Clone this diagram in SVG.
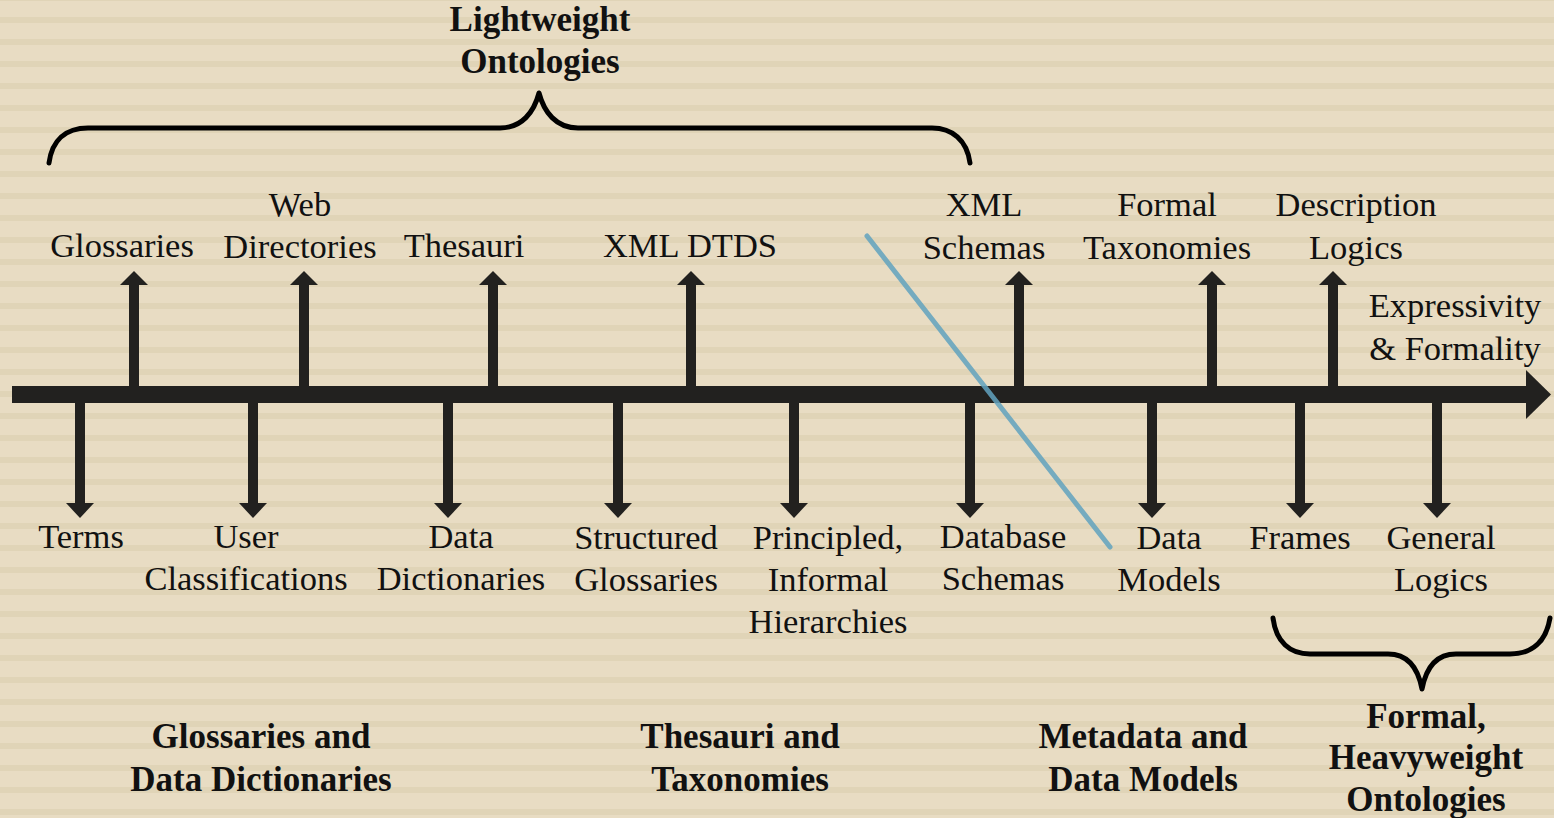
<svg xmlns="http://www.w3.org/2000/svg" xmlns:xlink="http://www.w3.org/1999/xlink" width="1554" height="818" viewBox="0 0 1554 818">
<defs>
<pattern id="stripes" patternUnits="userSpaceOnUse" x="0" y="17" width="1554" height="22">
<rect x="0" y="0" width="1554" height="22" fill="#E8DCC3"/>
<rect x="0" y="0" width="1554" height="6" fill="#E0D4B7"/>
</pattern>
<g id="up"><rect x="-5" y="284" width="10" height="103" fill="#22211F"/><polygon points="-14,285 14,285 0,271" fill="#22211F"/></g>
<g id="down"><rect x="-5" y="402" width="10" height="102" fill="#22211F"/><polygon points="-14,503 14,503 0,518" fill="#22211F"/></g>
<style>
.t{font-family:"Times New Roman","Liberation Serif",serif;font-size:34.5px;fill:#111;text-anchor:middle}
.b{font-family:"Times New Roman","Liberation Serif",serif;font-size:35px;font-weight:bold;fill:#111;text-anchor:middle}
.brace{fill:none;stroke:#000;stroke-width:5;stroke-linecap:round;stroke-linejoin:round}
</style>
</defs>
<rect width="1554" height="818" fill="url(#stripes)"/>

<g id="connectors">
<rect x="12" y="386" width="1516" height="17" fill="#22211F"/>
<polygon points="1526,370 1551,394.5 1526,419" fill="#22211F"/>
<use href="#up" x="134"/>
<use href="#up" x="304"/>
<use href="#up" x="493"/>
<use href="#up" x="691"/>
<use href="#up" x="1019"/>
<use href="#up" x="1212"/>
<use href="#up" x="1333"/>
<use href="#down" x="80"/>
<use href="#down" x="253"/>
<use href="#down" x="448"/>
<use href="#down" x="618"/>
<use href="#down" x="794"/>
<use href="#down" x="970"/>
<use href="#down" x="1152"/>
<use href="#down" x="1300"/>
<use href="#down" x="1437"/>
<line x1="867" y1="236" x2="1110" y2="547" stroke="#62A3BF" stroke-width="5" stroke-linecap="round" opacity="0.85"/>
</g>

<g id="brace-lightweight">
<path class="brace" d="M49,163 C52,140 66,128 88,128 L500,128 C522,128 534,112 539,93 C544,112 556,128 578,128 L932,128 C952,128 967,140 970,163"/>
<text class="b" x="540" y="31">Lightweight</text>
<text class="b" x="540" y="73">Ontologies</text>
</g>
<g id="brace-heavyweight">
<path class="brace" d="M1273,618 C1276,642 1290,654 1310,654 L1388,654 C1408,654 1418,668 1422,689 C1426,668 1436,654 1456,654 L1510,654 C1532,654 1546,642 1550,618"/>
<text class="b" x="1426" y="728">Formal,</text>
<text class="b" x="1426" y="769">Heavyweight</text>
<text class="b" x="1426" y="811">Ontologies</text>
</g>

<g id="glossaries"><text class="t" x="122" y="257">Glossaries</text></g>
<g id="web-directories"><text class="t" x="300" y="216">Web</text><text class="t" x="300" y="258">Directories</text></g>
<g id="thesauri"><text class="t" x="464" y="257">Thesauri</text></g>
<g id="xml-dtds"><text class="t" x="690" y="257">XML DTDS</text></g>
<g id="xml-schemas"><text class="t" x="984" y="216">XML</text><text class="t" x="984" y="259">Schemas</text></g>
<g id="formal-taxonomies"><text class="t" x="1167" y="216">Formal</text><text class="t" x="1167" y="259">Taxonomies</text></g>
<g id="description-logics"><text class="t" x="1356" y="216">Description</text><text class="t" x="1356" y="259">Logics</text></g>
<g id="expressivity"><text class="t" x="1455" y="317">Expressivity</text><text class="t" x="1455" y="360">&amp; Formality</text></g>

<g id="terms"><text class="t" x="81" y="548">Terms</text></g>
<g id="user-classifications"><text class="t" x="246" y="548">User</text><text class="t" x="246" y="590">Classifications</text></g>
<g id="data-dictionaries"><text class="t" x="461" y="548">Data</text><text class="t" x="461" y="590">Dictionaries</text></g>
<g id="structured-glossaries"><text class="t" x="646" y="549">Structured</text><text class="t" x="646" y="591">Glossaries</text></g>
<g id="principled-hierarchies"><text class="t" x="828" y="549">Principled,</text><text class="t" x="828" y="591">Informal</text><text class="t" x="828" y="633">Hierarchies</text></g>
<g id="database-schemas"><text class="t" x="1003" y="548">Database</text><text class="t" x="1003" y="590">Schemas</text></g>
<g id="data-models"><text class="t" x="1169" y="549">Data</text><text class="t" x="1169" y="591">Models</text></g>
<g id="frames"><text class="t" x="1300" y="549">Frames</text></g>
<g id="general-logics"><text class="t" x="1441" y="549">General</text><text class="t" x="1441" y="591">Logics</text></g>

<g id="glossaries-data-dictionaries"><text class="b" x="261" y="748">Glossaries and</text><text class="b" x="261" y="791">Data Dictionaries</text></g>
<g id="thesauri-taxonomies"><text class="b" x="740" y="748">Thesauri and</text><text class="b" x="740" y="791">Taxonomies</text></g>
<g id="metadata-data-models"><text class="b" x="1143" y="748">Metadata and</text><text class="b" x="1143" y="791">Data Models</text></g>
</svg>
